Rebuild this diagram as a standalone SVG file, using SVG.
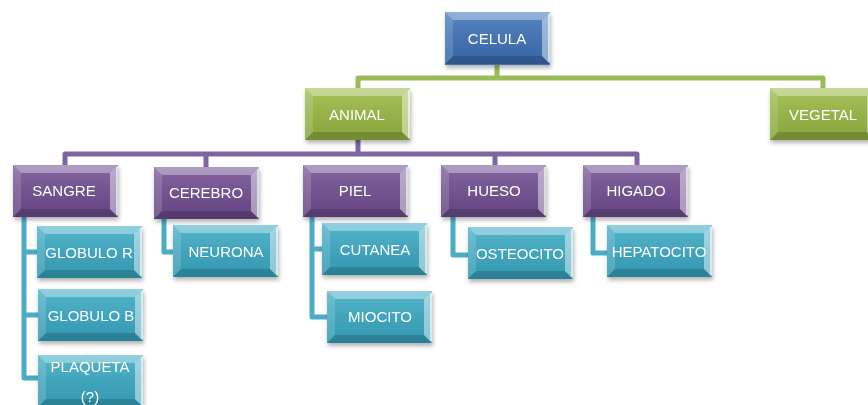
<svg xmlns="http://www.w3.org/2000/svg" xmlns:xlink="http://www.w3.org/1999/xlink" width="868" height="405" viewBox="0 0 868 405">
<style>
.c{fill:none;stroke-width:5;stroke-linejoin:round;stroke-linecap:butt}
.cg{stroke:#9bbb59}.cp{stroke:#8064a2}.ct{stroke:#4bacc6}
.blue{fill:#3d72b8}.green{fill:#98ba42}.purple{fill:#714d92}.teal{fill:#39aac5}
text{font-family:"Liberation Sans",Arial,sans-serif;font-size:15px;fill:#ffffff;text-anchor:middle}
</style>
<defs>
<filter id="sh" x="-10%" y="-10%" width="130%" height="140%">
<feDropShadow dx="1" dy="3" stdDeviation="2" flood-color="#000" flood-opacity="0.3"/>
</filter>
<linearGradient id="face" x1="0" y1="0" x2="0" y2="1">
<stop offset="0" stop-color="#fff" stop-opacity="0.15"/>
<stop offset="1" stop-color="#000" stop-opacity="0.1"/>
</linearGradient>
<g id="bev">
<rect x="0" y="0" width="105" height="52" fill="url(#face)"/>
<polygon points="0,0 105,0 97,8 8,8" fill="#fff" opacity="0.35"/>
<polygon points="0,0 8,8 8,44 0,52" fill="#fff" opacity="0.15"/>
<polygon points="0,52 8,44 97,44 105,52" fill="#000" opacity="0.16"/>
<polygon points="105,0 105,52 97,44 97,8" fill="#fff" opacity="0.45"/>
<line x1="104" y1="2" x2="104" y2="50" stroke="#fff" stroke-width="1.5" opacity="0.8"/>
</g>
</defs>
<g id="connectors">
<path class="c cg" d="M497,64 V78 H358 V90 M497,78 H823 V90"/>
<path class="c cp" d="M358,140 V154 H65 V167 M358,154 H637 V167 M206,154 V167 M495,154 V167"/>
<path class="c ct" d="M24,215 V378 H40 M24,252 H40 M24,315 H40"/>
<path class="c ct" d="M164,217 V252 H176"/>
<path class="c ct" d="M312,215 V317 H330 M312,249 H325"/>
<path class="c ct" d="M453,215 V255 H470"/>
<path class="c ct" d="M593,215 V253 H610"/>
</g>
<g id="celula" filter="url(#sh)"><rect class="blue" x="445" y="12" width="105" height="53"/><use xlink:href="#bev" x="445" y="12"/><text x="497" y="44">CELULA</text></g>
<g id="animal" filter="url(#sh)"><rect class="green" x="305" y="88" width="105" height="52"/><use xlink:href="#bev" x="305" y="88"/><text x="357" y="120">ANIMAL</text></g>
<g id="vegetal" filter="url(#sh)"><rect class="green" x="770" y="88" width="105" height="52"/><use xlink:href="#bev" x="770" y="88"/><text x="823" y="120">VEGETAL</text></g>
<g id="sangre" filter="url(#sh)"><rect class="purple" x="13" y="165" width="105" height="52"/><use xlink:href="#bev" x="13" y="165"/><text x="64" y="196">SANGRE</text></g>
<g id="cerebro" filter="url(#sh)"><rect class="purple" x="154" y="167" width="105" height="52"/><use xlink:href="#bev" x="154" y="167"/><text x="206" y="198">CEREBRO</text></g>
<g id="piel" filter="url(#sh)"><rect class="purple" x="303" y="165" width="105" height="52"/><use xlink:href="#bev" x="303" y="165"/><text x="355" y="196">PIEL</text></g>
<g id="hueso" filter="url(#sh)"><rect class="purple" x="441" y="165" width="105" height="52"/><use xlink:href="#bev" x="441" y="165"/><text x="494" y="196">HUESO</text></g>
<g id="higado" filter="url(#sh)"><rect class="purple" x="583" y="165" width="105" height="52"/><use xlink:href="#bev" x="583" y="165"/><text x="636" y="196">HIGADO</text></g>
<g id="globulo-r" filter="url(#sh)"><rect class="teal" x="37" y="226" width="105" height="52"/><use xlink:href="#bev" x="37" y="226"/><text x="89" y="258">GLOBULO R</text></g>
<g id="globulo-b" filter="url(#sh)"><rect class="teal" x="38" y="289" width="105" height="52"/><use xlink:href="#bev" x="38" y="289"/><text x="91" y="321">GLOBULO B</text></g>
<g id="plaqueta" filter="url(#sh)"><rect class="teal" x="38" y="355" width="105" height="52"/><use xlink:href="#bev" x="38" y="355"/><text x="90" y="372">PLAQUETA</text><text x="90" y="402">(?)</text></g>
<g id="neurona" filter="url(#sh)"><rect class="teal" x="173" y="225" width="105" height="52"/><use xlink:href="#bev" x="173" y="225"/><text x="226" y="257">NEURONA</text></g>
<g id="cutanea" filter="url(#sh)"><rect class="teal" x="322" y="223" width="105" height="52"/><use xlink:href="#bev" x="322" y="223"/><text x="375" y="255">CUTANEA</text></g>
<g id="miocito" filter="url(#sh)"><rect class="teal" x="327" y="291" width="105" height="52"/><use xlink:href="#bev" x="327" y="291"/><text x="380" y="322">MIOCITO</text></g>
<g id="osteocito" filter="url(#sh)"><rect class="teal" x="468" y="227" width="105" height="52"/><use xlink:href="#bev" x="468" y="227"/><text x="520" y="259">OSTEOCITO</text></g>
<g id="hepatocito" filter="url(#sh)"><rect class="teal" x="607" y="225" width="105" height="52"/><use xlink:href="#bev" x="607" y="225"/><text x="659" y="257">HEPATOCITO</text></g>
</svg>
